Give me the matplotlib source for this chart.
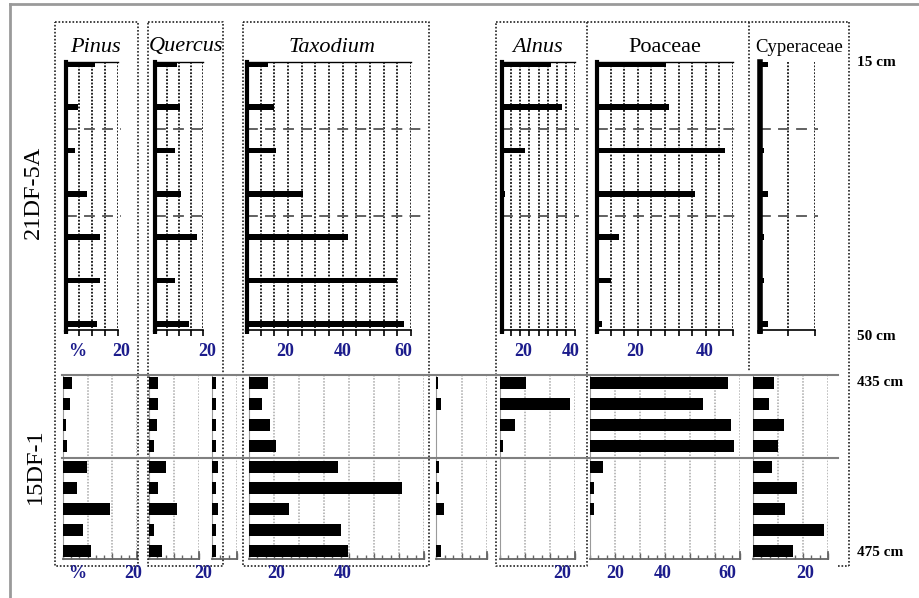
import numpy as np
import matplotlib
matplotlib.use('Agg')
import matplotlib.pyplot as plt
from matplotlib.lines import Line2D
from matplotlib.ticker import MultipleLocator

plt.rcParams['font.family'] = ['Liberation Serif', 'DejaVu Serif']

# ---- 21DF-5A, 15-50 cm (percent, top sample first) ----
titles_a = ['Pinus', 'Quercus', 'Taxodium', 'Alnus', 'Poaceae', 'Cyperaceae']
pinus_a = [11, 4.5, 3.5, 8, 13, 13, 12]
quercus_a = [9, 10.5, 8.5, 11, 17.5, 8.5, 14]
taxodium_a = [7.5, 10, 10.5, 20.5, 37, 55, 57.5]
alnus_a = [27, 33, 12.5, 1.5, 0, 0, 0]
poaceae_a = [25.5, 26.5, 47, 36, 8, 5, 2]
cyperaceae_a = [3, 0, 1.5, 3, 1.5, 1.5, 3]
zones_a = [1.5, 3.5]

# ---- 15DF-1, 435-475 cm ----
pinus_b = [3.7, 2.9, 1.2, 1.6, 9.8, 5.7, 19, 8, 11.4]
quercus_b = [3.6, 3.6, 3.2, 2, 6.8, 3.6, 11, 2, 5.3]
other1_b = [1.7, 1.7, 1.5, 1.5, 2.5, 1.7, 2.5, 1.7, 1.7]
taxodium_b = [7.6, 5.3, 8.4, 10.8, 35.6, 61, 16, 36.8, 39.6]
other2_b = [0.6, 2, 0, 0, 1.3, 1.2, 3.2, 0, 1.9]
alnus_b = [10.4, 28, 6, 1.2, 0, 0, 0, 0, 0]
poaceae_b = [55, 45, 56.5, 57.6, 5, 1.6, 1.6, 0, 0]
cyperaceae_b = [8.4, 6.4, 12.4, 10, 7.6, 17.6, 12.8, 28.4, 16]

depth_labels = ['15 cm', '50 cm', '435 cm', '475 cm']
core_labels = ['21DF-5A', '15DF-1']

W, H = 919, 598
fig = plt.figure(figsize=(W / 100, H / 100), dpi=100)
NAVY = '#1c1c8c'


def fx(x):
    return x / W


def fy(y):
    return 1 - y / H


def add_panel(x0, x1, y0, y1):
    ax = fig.add_axes([fx(x0), fy(y1), (x1 - x0) / W, (y1 - y0) / H])
    ax.set_facecolor('none')
    ax.set_yticks([])
    return ax


def fig_line(xs, ys, **kw):
    fig.add_artist(Line2D([fx(x) for x in xs], [fy(y) for y in ys], **kw))


# outer frame
fig_line([10, 10], [598, 4], color='#9a9a9a', lw=2)
fig_line([10, 919], [4, 4], color='#9a9a9a', lw=2)

# dotted boxes around each taxon column
dots = dict(color='#222222', lw=1.2, ls=(0, (1, 1.1)))
for x0, x1 in [(55, 138), (148, 223), (243, 429), (496, 587)]:
    fig_line([x0, x1, x1, x0, x0], [22, 22, 566, 566, 22], **dots)
fig_line([587, 849], [22, 22], **dots)
fig_line([849, 849], [22, 566], **dots)
fig_line([749, 749], [22, 372], **dots)
fig_line([838, 849], [566, 566], **dots)

# ---- upper core ----
top_values = [pinus_a, quercus_a, taxodium_a, alnus_a, poaceae_a, cyperaceae_a]
top_layout = [(66, 118, 20, 5), (155, 203, 20, 5), (247, 411, 60, 5),
              (502, 575, 40, 5), (597, 733, 50, 5), (760, 815, 20, 10)]
TY0, TY1, TROW0, TSTEP = 62, 330, 64, 43.3

for i, ((x0, x1, xmax, step), vals) in enumerate(zip(top_layout, top_values)):
    ax = add_panel(x0, x1, TY0, TY1)
    ylim = ((TY1 - TROW0) / TSTEP, (TY0 - TROW0) / TSTEP)
    ax.set_xlim(0, xmax)
    ax.set_ylim(*ylim)
    ax.barh(np.arange(len(vals)), vals, height=0.13, color='black', zorder=3)
    grid = np.arange(step, xmax + 0.01, step)
    ax.vlines(grid, ylim[1], ylim[0], colors='#111111', lw=1.3,
              linestyles=[(0, (1, 0.9))], zorder=1)
    for z in zones_a:
        ax.plot([0, xmax * 1.06], [z, z], color='#555555', lw=1.3,
                ls=(0, (6, 4)), clip_on=False, zorder=2)
    # left axis runs a little past the base line
    ax.plot([0, 0], [ylim[0], ylim[0] + 0.1], color='black',
            lw=4 if i == 5 else 3, clip_on=False, solid_capstyle='butt')
    ax.spines['right'].set_visible(False)
    ax.spines['left'].set_linewidth(4 if i == 5 else 3)
    ax.spines['top'].set_linewidth(1)
    ax.spines['top'].set_visible(i != 5)
    ax.spines['bottom'].set_linewidth(1.2)
    ax.set_xticks(grid)
    ax.set_xticklabels([])
    ax.tick_params(axis='x', direction='out', length=4, width=1.2)

title_pos = [95, 186, 332, 538, 665, 799]
for name, xc in zip(titles_a, title_pos):
    italic = name not in ('Poaceae', 'Cyperaceae')
    fig.text(fx(xc), fy(47), name, ha='center', va='center',
             fontsize=13.5 if name == 'Cyperaceae' else 16,
             style='italic' if italic else 'normal')

# ---- lower core ----
bot_values = [pinus_b, quercus_b, other1_b, taxodium_b, other2_b,
              alnus_b, poaceae_b, cyperaceae_b]
bot_layout = [(63, 137, 30), (149, 199, 20), (212, 237, 10), (249, 424, 70),
              (436, 487, 20), (500, 575, 30), (590, 740, 60), (753, 828, 30)]
BY0, BY1, BROW0, BSTEP = 375, 559, 383, 21

for (x0, x1, xmax), vals in zip(bot_layout, bot_values):
    ax = add_panel(x0, x1, BY0, BY1)
    ylim = ((BY1 - BROW0) / BSTEP, (BY0 - BROW0) / BSTEP)
    ax.set_xlim(0, xmax)
    ax.set_ylim(*ylim)
    ax.barh(np.arange(len(vals)), vals, height=0.57, color='black', zorder=3)
    grid = np.arange(10, xmax + 0.01, 10)
    ax.vlines(grid, ylim[1], ylim[0], colors='#a8a8a8', lw=1.1,
              linestyles=[(0, (1, 1))], zorder=1)
    for s in ('top', 'right'):
        ax.spines[s].set_visible(False)
    ax.spines['left'].set_color('#9a9a9a')
    ax.spines['left'].set_linewidth(0.8)
    ax.spines['bottom'].set_color('#666666')
    ax.spines['bottom'].set_linewidth(1.3)
    ax.plot([xmax, xmax], [ylim[0], ylim[0] - 0.35], color='#666666',
            lw=1.3, clip_on=False)
    ax.set_xticks(grid)
    ax.set_xticklabels([])
    ax.xaxis.set_minor_locator(MultipleLocator(10 / 3))
    ax.tick_params(axis='x', which='major', direction='in', length=4,
                   width=1, color='#666666')
    ax.tick_params(axis='x', which='minor', direction='in', length=3,
                   width=1, color='#666666')

# zone lines across the lower core
for yy in (375, 458):
    fig_line([62, 838], [yy, yy], color='#808080', lw=1.5)

# percent scale labels
scale_top = [('%', 77), ('20', 121), ('20', 207), ('20', 285), ('40', 343),
             ('60', 403), ('20', 523), ('40', 571), ('20', 635), ('40', 705)]
scale_bot = [('%', 77), ('20', 133), ('20', 203), ('20', 276), ('40', 343),
             ('20', 562), ('20', 615), ('40', 663), ('60', 727), ('20', 805)]
for lab, xc in scale_top:
    fig.text(fx(xc), fy(351), lab, ha='center', va='center', color=NAVY,
             fontsize=13, fontweight='bold')
for lab, xc in scale_bot:
    fig.text(fx(xc), fy(573), lab, ha='center', va='center', color=NAVY,
             fontsize=13, fontweight='bold')

# core names and depths
fig.text(fx(33), fy(192), core_labels[0], rotation=90, ha='center',
         va='center', fontsize=17.5)
fig.text(fx(35), fy(466), core_labels[1], rotation=90, ha='center',
         va='center', fontsize=17.5)
for lab, yy in zip(depth_labels, [62, 336, 382, 553]):
    fig.text(fx(857), fy(yy), lab, ha='left', va='center', fontsize=11,
             fontweight='bold')

fig.savefig('out.png', dpi=100)
